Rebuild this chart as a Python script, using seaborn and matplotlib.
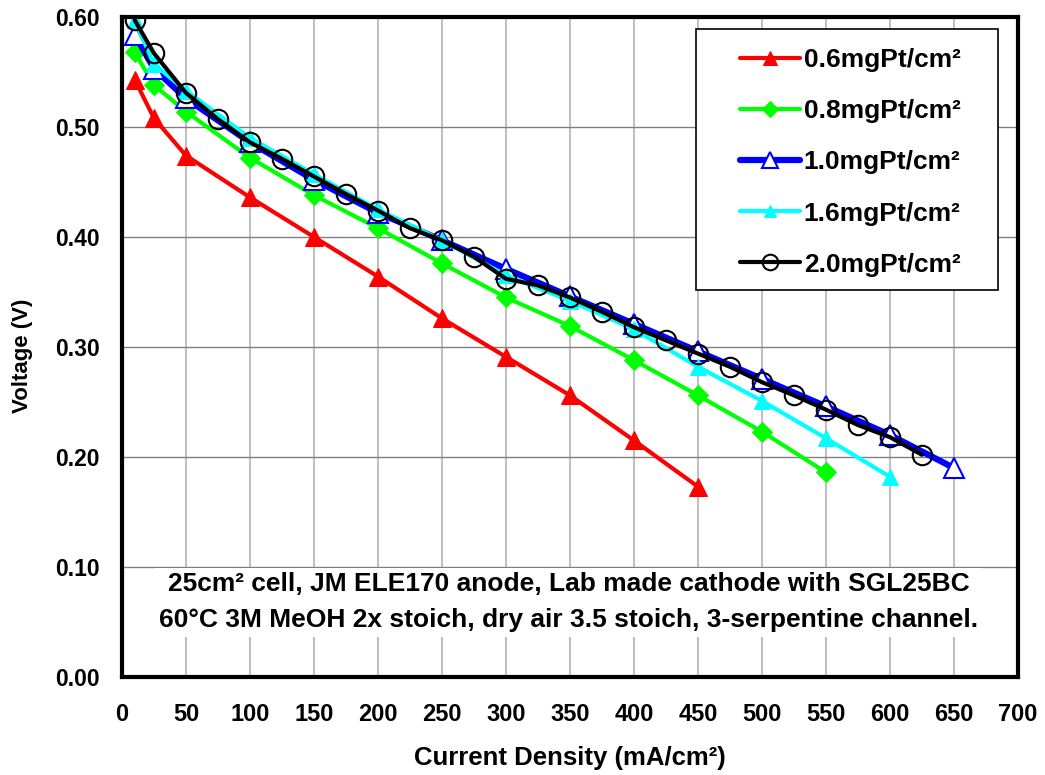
import matplotlib
matplotlib.use("Agg")
import matplotlib.pyplot as plt
from matplotlib.patches import Rectangle
import seaborn as sns
import pandas as pd

# ---------------- data ----------------
x_06 = [10, 25, 50, 100, 150, 200, 250, 300, 350, 400, 450]
v_06 = [0.543, 0.508, 0.474, 0.436, 0.400, 0.364, 0.326, 0.291, 0.256, 0.215, 0.173]

x_08 = [10, 25, 50, 100, 150, 200, 250, 300, 350, 400, 450, 500, 550]
v_08 = [0.568, 0.538, 0.514, 0.472, 0.438, 0.408, 0.376, 0.345, 0.319, 0.288, 0.256, 0.223, 0.186]

x_10 = [10, 25, 50, 100, 150, 200, 250, 300, 350, 400, 450, 500, 550, 600, 650]
v_10 = [0.584, 0.553, 0.526, 0.486, 0.452, 0.422, 0.397, 0.371, 0.346, 0.321, 0.296, 0.271, 0.246, 0.220, 0.190]

x_16 = [10, 25, 50, 100, 150, 200, 250, 300, 350, 400, 450, 500, 550, 600]
v_16 = [0.597, 0.557, 0.533, 0.490, 0.457, 0.425, 0.397, 0.365, 0.342, 0.316, 0.282, 0.251, 0.217, 0.182]

x_20 = [10, 25, 50, 75, 100, 125, 150, 175, 200, 225, 250, 275, 300, 325, 350, 375,
        400, 425, 450, 475, 500, 525, 550, 575, 600, 625]
v_20 = [0.597, 0.567, 0.531, 0.507, 0.486, 0.471, 0.455, 0.439, 0.424, 0.408, 0.397, 0.382,
        0.362, 0.356, 0.345, 0.332, 0.318, 0.306, 0.294, 0.282, 0.268, 0.256, 0.243, 0.229,
        0.218, 0.202]

labels = ["0.6mgPt/cm²", "0.8mgPt/cm²", "1.0mgPt/cm²", "1.6mgPt/cm²", "2.0mgPt/cm²"]
x_ticks = list(range(0, 701, 50))
y_ticks = [0.0, 0.1, 0.2, 0.3, 0.4, 0.5, 0.6]
annotation = ("25cm² cell, JM ELE170 anode, Lab made cathode with SGL25BC\n"
              "60°C 3M MeOH 2x stoich, dry air 3.5 stoich, 3-serpentine channel.")

# ---------------- styling ----------------
sns.set_style("white")
plt.rcParams['font.family'] = ['Liberation Sans', 'DejaVu Sans']
plt.rcParams['font.weight'] = 'bold'
plt.rcParams['text.color'] = 'black'
plt.rcParams['axes.labelcolor'] = 'black'
plt.rcParams['xtick.labelcolor'] = 'black'
plt.rcParams['ytick.labelcolor'] = 'black'

fig = plt.figure(figsize=(10.45, 7.75), dpi=100)
ax = fig.add_axes([0.1167, 0.1265, 0.8574, 0.8516])

styles = [
    dict(color="#ff0000", marker="^", markersize=13, markerfacecolor="#ff0000",
         markeredgecolor="#ff0000", linewidth=3, zorder=3),
    dict(color="#00ff00", marker="D", markersize=10, markerfacecolor="#00ff00",
         markeredgecolor="#00ff00", linewidth=3, zorder=4),
    dict(color="#0000ff", marker="^", markersize=14, markerfacecolor="white",
         markeredgecolor="#0000ff", markeredgewidth=1.5, linewidth=4.5, zorder=5),
    dict(color="#00ffff", marker="^", markersize=11, markerfacecolor="#00ffff",
         markeredgecolor="#00ffff", linewidth=3, zorder=6),
    dict(color="#000000", marker="o", markersize=14, markerfacecolor="none",
         markeredgecolor="#000000", markeredgewidth=1.5, linewidth=3, zorder=7),
]

series = [(x_06, v_06), (x_08, v_08), (x_10, v_10), (x_16, v_16), (x_20, v_20)]
for (xs, vs), lab, st in zip(series, labels, styles):
    df = pd.DataFrame({"x": xs, "v": vs})
    sns.lineplot(data=df, x="x", y="v", ax=ax, label=lab, **st)

ax.set_xlim(0, 700)
ax.set_ylim(0, 0.6)
ax.set_xticks(x_ticks)
ax.set_yticks(y_ticks)
ax.set_xticklabels([str(t) for t in x_ticks], fontsize=17, fontweight='bold', color='black')
ax.set_yticklabels([f"{t:.2f}" for t in y_ticks], fontsize=16.5, fontweight='bold', color='black')

ax.xaxis.grid(True, color="#c0c0c0", linewidth=1.5, zorder=0)
ax.yaxis.grid(True, color="#808080", linewidth=1.0, zorder=0)
ax.set_axisbelow(True)

for sp in ax.spines.values():
    sp.set_visible(True)
    sp.set_color("black")
    sp.set_linewidth(3)
    sp.set_zorder(10)

ax.tick_params(axis='both', which='major', direction='out', length=6, width=1,
               color="#808080", labelcolor='black')
ax.tick_params(axis='x', pad=13)
ax.tick_params(axis='y', pad=10)

ax.set_xlabel("Current Density (mA/cm²)", fontsize=18.5, fontweight='bold', labelpad=14,
              color='black')
ax.set_ylabel("Voltage (V)", fontsize=16, fontweight='bold', color='black')
ax.yaxis.set_label_coords(-0.099, 0.486)

ax.text(349, 0.068, annotation, ha='center', va='center', fontsize=19,
        fontweight='bold', linespacing=1.65, zorder=2, color='black',
        bbox=dict(facecolor='white', edgecolor='none', pad=3))

# legend box
ax.add_patch(Rectangle((0.6406, 0.5864), 0.337, 0.3955, transform=ax.transAxes,
                       facecolor='white', edgecolor='black', linewidth=1.2, zorder=8))
leg = ax.legend(loc='upper left', bbox_to_anchor=(0.6897, 0.953), borderaxespad=0,
                borderpad=0, fontsize=19, frameon=False,
                labelspacing=1.03, handlelength=2.27, handletextpad=0.15,
                markerscale=0.8)
leg.set_zorder(9)
for t in leg.get_texts():
    t.set_fontweight('bold')
    t.set_color('black')

fig.savefig("out.png", dpi=100)
